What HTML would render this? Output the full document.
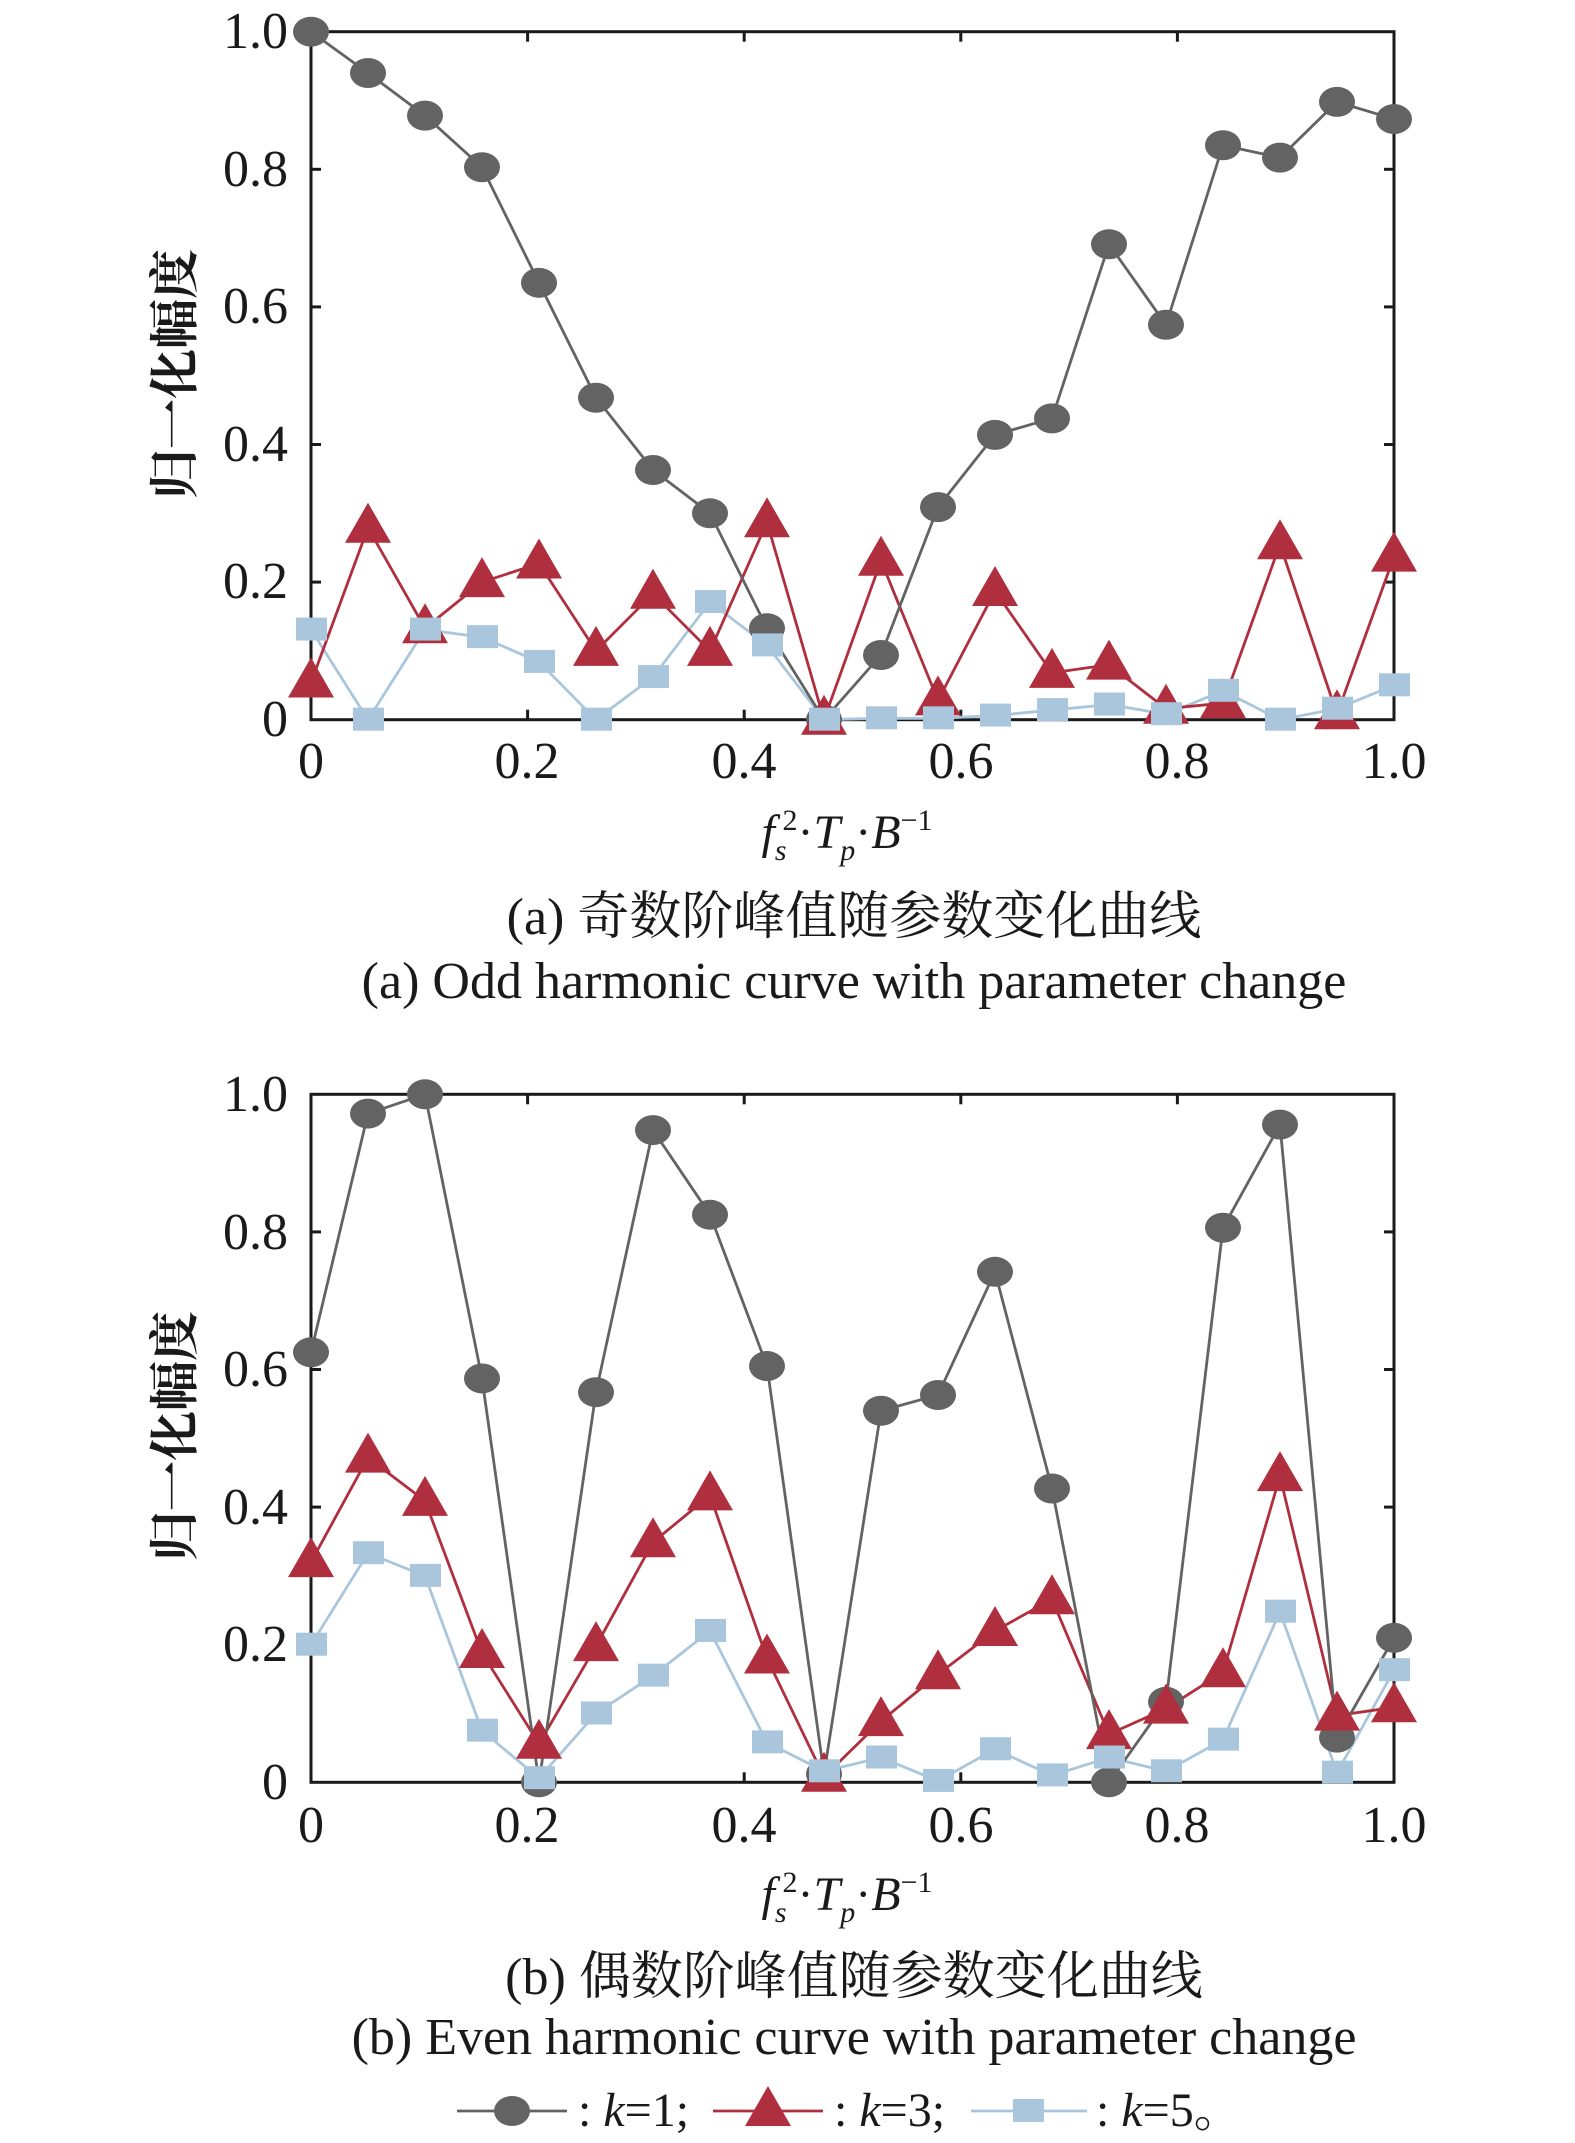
<!DOCTYPE html>
<html><head><meta charset="utf-8"><style>
html,body{margin:0;padding:0;background:#fff;}
svg{display:block;}
text{font-family:"Liberation Serif","Noto Serif CJK SC",serif;fill:#1a1a1a;}
</style></head><body>
<svg id="s" width="1575" height="2143" viewBox="0 0 1575 2143" xmlns="http://www.w3.org/2000/svg">
<g id="plots"></g>
<g font-size="52" text-anchor="end">
<text x="288" y="48">1.0</text><text x="288" y="186">0.8</text><text x="288" y="323">0.6</text><text x="288" y="461">0.4</text><text x="288" y="598">0.2</text><text x="288" y="736">0</text>
</g>
<g font-size="52" text-anchor="middle">
<text x="311" y="778">0</text><text x="527" y="778">0.2</text><text x="744" y="778">0.4</text><text x="961" y="778">0.6</text><text x="1177" y="778">0.8</text><text x="1394" y="778">1.0</text>
</g>
<text x="847" y="848" font-size="48" text-anchor="middle" font-style="italic">f<tspan font-size="30" dy="12">s</tspan><tspan font-size="30" dy="-30" dx="-4" font-style="normal">2</tspan><tspan dy="18" font-style="normal">·</tspan>T<tspan font-size="30" dy="12">p</tspan><tspan dy="-12" font-style="normal">·</tspan>B<tspan font-size="30" dy="-18" font-style="normal">−1</tspan></text>
<text transform="translate(192,374) rotate(-90)" font-size="50" text-anchor="middle" font-family="Noto Serif CJK SC,serif" font-weight="bold">归一化幅度</text>
<text x="854" y="934" font-size="52" text-anchor="middle">(a) 奇数阶峰值随参数变化曲线</text>
<text x="854" y="998" font-size="52" text-anchor="middle">(a) Odd harmonic curve with parameter change</text>
<g font-size="52" text-anchor="end">
<text x="288" y="1111">1.0</text><text x="288" y="1249">0.8</text><text x="288" y="1386">0.6</text><text x="288" y="1524">0.4</text><text x="288" y="1661">0.2</text><text x="288" y="1799">0</text>
</g>
<g font-size="52" text-anchor="middle">
<text x="311" y="1842">0</text><text x="527" y="1842">0.2</text><text x="744" y="1842">0.4</text><text x="961" y="1842">0.6</text><text x="1177" y="1842">0.8</text><text x="1394" y="1842">1.0</text>
</g>
<text x="847" y="1910" font-size="48" text-anchor="middle" font-style="italic">f<tspan font-size="30" dy="12">s</tspan><tspan font-size="30" dy="-30" dx="-4" font-style="normal">2</tspan><tspan dy="18" font-style="normal">·</tspan>T<tspan font-size="30" dy="12">p</tspan><tspan dy="-12" font-style="normal">·</tspan>B<tspan font-size="30" dy="-18" font-style="normal">−1</tspan></text>
<text transform="translate(192,1436) rotate(-90)" font-size="50" text-anchor="middle" font-family="Noto Serif CJK SC,serif" font-weight="bold">归一化幅度</text>
<text x="854" y="1994" font-size="52" text-anchor="middle">(b) 偶数阶峰值随参数变化曲线</text>
<text x="854" y="2054" font-size="52" text-anchor="middle">(b) Even harmonic curve with parameter change</text>
<g id="leg"></g>
<g font-size="48">
<text x="578" y="2126">: <tspan font-style="italic">k</tspan>=1;</text>
<text x="834" y="2126">: <tspan font-style="italic">k</tspan>=3;</text>
<text x="1096" y="2126">: <tspan font-style="italic">k</tspan>=5。</text>
</g>
</svg>
<script>
var NS="http://www.w3.org/2000/svg";
var C1="#636363",C3="#b02f3e",C5="#a9c6dc";
function el(p,t,a){var e=document.createElementNS(NS,t);for(var k in a)e.setAttribute(k,a[k]);p.appendChild(e);return e;}
var g=document.getElementById("plots");
function mk(p,type,x,y,c){
 if(type==1)el(p,"ellipse",{cx:x,cy:y,rx:18,ry:15,fill:c});
 else if(type==3)el(p,"polygon",{points:(x-23)+","+(y+15)+" "+(x+23)+","+(y+15)+" "+x+","+(y-25),fill:c});
 else el(p,"rect",{x:x-15,y:y-12,width:31,height:23,fill:c});
}
function plot(top,data){
 var L=311,R=1394,B=top+688,W=R-L,H=688;
 el(g,"rect",{x:L,y:top,width:W,height:H,fill:"none",stroke:"#1a1a1a","stroke-width":3});
 for(var i=1;i<5;i++){var x=L+W*i/5,y=B-H*i/5;
  el(g,"line",{x1:x,y1:B,x2:x,y2:B-10,stroke:"#1a1a1a","stroke-width":3});
  el(g,"line",{x1:x,y1:top,x2:x,y2:top+10,stroke:"#1a1a1a","stroke-width":3});
  el(g,"line",{x1:L,y1:y,x2:L+10,y2:y,stroke:"#1a1a1a","stroke-width":3});
  el(g,"line",{x1:R,y1:y,x2:R-10,y2:y,stroke:"#1a1a1a","stroke-width":3});}
 [[5,C5],[3,C3],[1,C1]].forEach(function(o){
  var v=data[o[0]],pts=v.map(function(d,i){return [L+W*i/19,B-H*d];});
  el(g,"polyline",{points:pts.map(function(p){return p.join(",");}).join(" "),fill:"none",stroke:o[1],"stroke-width":2.8});
 });
 [[1,C1],[3,C3],[5,C5]].forEach(function(o){
  data[o[0]].forEach(function(d,i){mk(g,o[0],L+W*i/19,B-H*d,o[1]);});
 });
}
plot(31.7,{
1:[1.0,0.94,0.878,0.803,0.635,0.468,0.363,0.30,0.133,0,0.094,0.309,0.414,0.438,0.691,0.574,0.835,0.817,0.898,0.873],
3:[0.054,0.279,0.133,0.2,0.227,0.1,0.183,0.1,0.287,0,0.231,0.028,0.187,0.068,0.08,0.016,0.024,0.255,0.008,0.237],
5:[0.131,0,0.131,0.12,0.084,0,0.062,0.171,0.108,0,0.002,0.002,0.006,0.014,0.022,0.008,0.042,0,0.016,0.05]});
plot(1094.3,{
1:[0.625,0.972,1.0,0.587,0,0.567,0.948,0.825,0.605,0.012,0.54,0.563,0.742,0.427,0,0.117,0.806,0.956,0.065,0.21],
3:[0.32,0.472,0.409,0.188,0.056,0.198,0.349,0.417,0.18,0.008,0.089,0.157,0.22,0.266,0.07,0.107,0.16,0.445,0.097,0.109],
5:[0.2,0.333,0.3,0.075,0.006,0.1,0.155,0.22,0.058,0.016,0.036,0.002,0.048,0.01,0.036,0.016,0.062,0.248,0.014,0.163]});
var lg=document.getElementById("leg");
[[457,567,512,1,C1],[713,823,768,3,C3],[971,1087,1028,5,C5]].forEach(function(a){
 el(lg,"line",{x1:a[0],y1:2111,x2:a[1],y2:2111,stroke:a[4],"stroke-width":2.8});
 mk(lg,a[3],a[2],2111,a[4]);
});
</script>
</body></html>
